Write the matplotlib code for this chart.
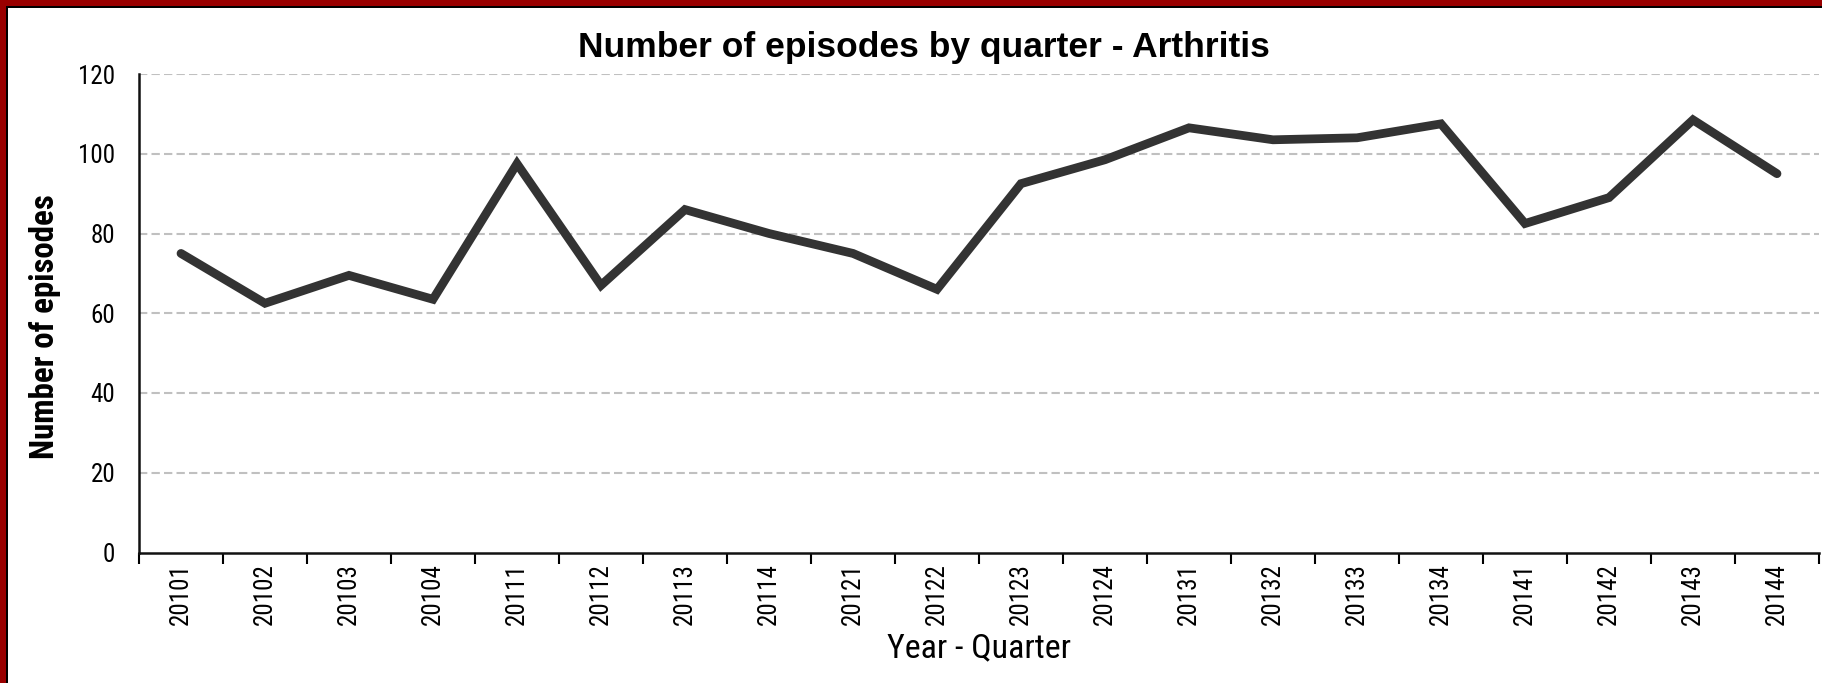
import matplotlib
matplotlib.use('Agg')
import matplotlib.pyplot as plt
from matplotlib import font_manager
from matplotlib.patches import Rectangle

quarters = ['20101', '20102', '20103', '20104', '20111', '20112', '20113', '20114',
            '20121', '20122', '20123', '20124', '20131', '20132', '20133', '20134',
            '20141', '20142', '20143', '20144']
episodes = [75, 62.5, 69.5, 63.5, 97.5, 67, 86, 80,
            75, 66, 92.5, 98.5, 106.5, 103.5, 104, 107.5,
            82.5, 89, 108.5, 95]
y_ticks = [0, 20, 40, 60, 80, 100, 120]

# pick an Arial Narrow lookalike that is installed
installed = {f.name for f in font_manager.fontManager.ttflist}
narrow_name = 'Liberation Sans'
for cand in ['Roboto Condensed', 'Archivo Narrow', 'Arimo', 'Liberation Sans']:
    if cand in installed:
        narrow_name = cand
        break
narrow = [narrow_name, 'DejaVu Sans']
bold = ['Liberation Sans', 'DejaVu Sans']

W, H = 1822, 683
fig = plt.figure(figsize=(W / 100, H / 100), dpi=100)
fig.patch.set_facecolor('white')

ax = fig.add_axes([139 / W, 1 - 552.5 / H, 1680 / W, 478.5 / H])

x = list(range(len(quarters)))
ax.plot(x, episodes, color='#333333', lw=6.3, solid_joinstyle='miter', solid_capstyle='round', zorder=3)

ax.set_xlim(-0.5, len(quarters) - 0.5)
ax.set_ylim(0, 120)
ax.set_yticks(y_ticks)
ax.set_yticklabels([str(v) for v in y_ticks], fontfamily=narrow, fontsize=18)
ax.set_xticks(x)
ax.set_xticklabels(quarters, rotation=90, fontfamily=narrow, fontsize=18)
ax.set_xticks([i - 0.5 for i in range(len(quarters) + 1)], minor=True)
ax.tick_params(axis='x', which='major', length=0, pad=8)
ax.tick_params(axis='x', which='minor', length=8, width=1.5, direction='out')
ax.tick_params(axis='y', length=0, pad=17)

# dashed grey gridlines (no line at zero)
for v in y_ticks[1:]:
    ax.axhline(v, color='#c0c0c0', lw=1.5, ls=(0, (4, 2)), zorder=1)

for side in ['top', 'right']:
    ax.spines[side].set_visible(False)
for side in ['left', 'bottom']:
    ax.spines[side].set_linewidth(1.8)
    ax.spines[side].set_color('#111111')

ax.set_ylabel('Number of episodes', fontfamily=narrow, fontweight='bold', fontsize=23.7)
ax.yaxis.set_label_coords(-0.056, 0.473)
ax.yaxis.label.set_va('center')
ax.set_xlabel('Year - Quarter', fontfamily=narrow, fontsize=24.5)
ax.xaxis.set_label_coords(0.5, -0.2)
ax.xaxis.label.set_va('center')

fig.text(924 / W, 1 - 57 / H, 'Number of episodes by quarter - Arthritis',
         ha='center', va='baseline', fontfamily=bold, fontweight='bold', fontsize=25.5)

# dark red frame on top and left, thin black inner line
fig.add_artist(Rectangle((0, 1 - 6 / H), 1, 6 / H, transform=fig.transFigure,
                         facecolor='#990000', edgecolor='none'))
fig.add_artist(Rectangle((0, 0), 6 / W, 1, transform=fig.transFigure,
                         facecolor='#990000', edgecolor='none'))
fig.add_artist(Rectangle((6 / W, 1 - 7.5 / H), 1, 1.5 / H, transform=fig.transFigure,
                         facecolor='black', edgecolor='none'))
fig.add_artist(Rectangle((6 / W, 0), 1.5 / W, 1 - 6 / H, transform=fig.transFigure,
                         facecolor='black', edgecolor='none'))

fig.savefig('out.png', dpi=100)
